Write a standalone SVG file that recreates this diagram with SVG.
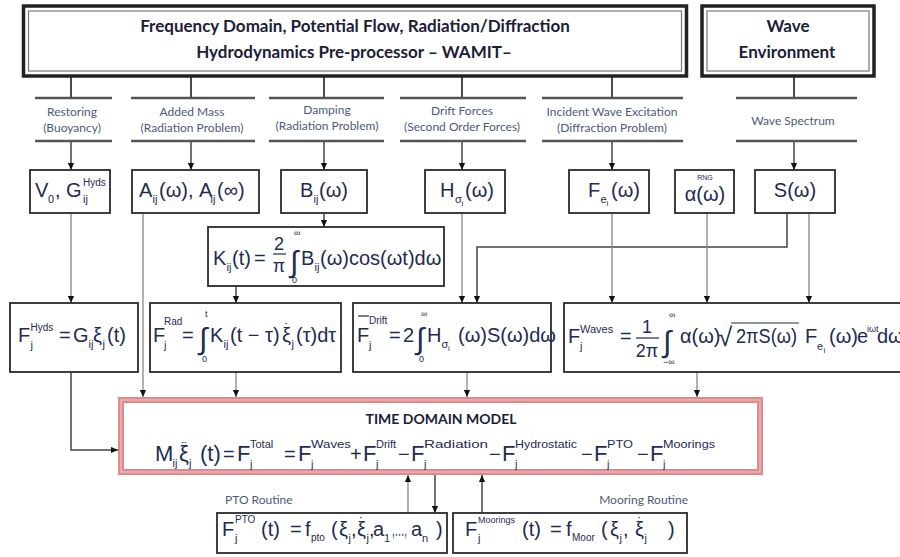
<svg xmlns="http://www.w3.org/2000/svg" width="900" height="557" viewBox="0 0 900 557">
<style>
.hd{font-family:Lato,"Open Sans","Liberation Sans",sans-serif;font-weight:700;font-size:17px;fill:#1b2038}
.lb{font-family:Lato,"Open Sans","Liberation Sans",sans-serif;font-size:12px;fill:#4d5a78}
.m{font-family:"Liberation Sans",Arial,sans-serif;fill:#1e2b52;font-size:20px}
.f18{font-size:18px}.f22{font-size:22px}.int{font-size:30px}
.s{font-size:11px}.s10{font-size:10px}.t{font-size:8px}.l9{font-size:9px}
.dt{font-size:14px;text-anchor:middle}
.bx{fill:#fff;stroke:#2b2b2b;stroke-width:1.8}
.bar{stroke:#555;stroke-width:2.6}
.k{fill:none;stroke:#3a3a3a;stroke-width:1.8}
.c{fill:none;stroke:#444;stroke-width:1.5}
.cl{fill:none;stroke:#888;stroke-width:1.3}
.ln{stroke:#1e2b52;stroke-width:1.2}
.ar{marker-end:url(#ah)}
</style>
<defs>
<marker id="ah" viewBox="0 0 8 8" refX="8" refY="4" markerWidth="7" markerHeight="7" orient="auto" markerUnits="userSpaceOnUse"><path d="M0,0.5 L8,4 L0,7.5 Z" fill="#111"/></marker>
</defs>
<rect width="900" height="557" fill="#fff"/>

<g id="connectors">
<path class="k" d="M71,77V98M191,77V98M324,77V98M462,77V98M612,77V98M794,77V98"/>
<path class="c ar" d="M71,141V170"/>
<path class="c ar" d="M191,141V170"/>
<path class="c ar" d="M324,141V170"/>
<path class="c ar" d="M462,141V170"/>
<path class="c ar" d="M612,141V170"/>
<path class="c ar" d="M794,141V170"/>
<path class="cl ar" d="M71,213V303"/>
<path class="cl ar" d="M143,213V397"/>
<path class="c ar" d="M324,213V227"/>
<path class="c ar" d="M236,286V303"/>
<path class="cl ar" d="M462,213V303"/>
<path class="c ar" d="M787,213V247H477V303"/>
<path class="cl ar" d="M612,213V303"/>
<path class="cl ar" d="M707,213V303"/>
<path class="cl ar" d="M809,213V303"/>
<path class="c ar" d="M71,372V450H118"/>
<path class="cl ar" d="M236,372V397"/>
<path class="cl ar" d="M467,372V397"/>
<path class="cl ar" d="M697,372V397"/>
<path class="cl ar" d="M408,513V475"/>
<path class="c ar" d="M435,475V513"/>
<path class="c ar" d="M482,513V475"/>
</g>

<g id="wamit">
<rect x="23.5" y="6" width="663" height="70" fill="#fff" stroke="#222" stroke-width="3.5"/>
<rect x="28.5" y="11" width="653" height="60" fill="none" stroke="#777" stroke-width="1.2"/>
<text class="hd" x="355" y="32" text-anchor="middle">Frequency Domain, Potential Flow, Radiation/Diffraction</text>
<text class="hd" x="354" y="58" text-anchor="middle">Hydrodynamics Pre-processor – WAMIT–</text>
</g>
<g id="wave-env">
<rect x="702" y="6" width="172" height="70" fill="#fff" stroke="#222" stroke-width="3.5"/>
<rect x="707" y="11" width="162" height="60" fill="none" stroke="#777" stroke-width="1.2"/>
<text class="hd" x="788" y="32" text-anchor="middle">Wave</text>
<text class="hd" x="787" y="58" text-anchor="middle">Environment</text>
</g>

<g id="lbl-restoring">
<line class="bar" x1="35" y1="98" x2="112" y2="98"/><line class="bar" x1="35" y1="141" x2="112" y2="141"/>
<text class="lb" x="72" y="116" text-anchor="middle">Restoring</text>
<text class="lb" x="72" y="132" text-anchor="middle">(Buoyancy)</text>
</g>
<g id="lbl-added-mass">
<line class="bar" x1="131" y1="98" x2="255" y2="98"/><line class="bar" x1="131" y1="141" x2="255" y2="141"/>
<text class="lb" x="192" y="116" text-anchor="middle">Added Mass</text>
<text class="lb" x="192" y="132" text-anchor="middle">(Radiation Problem)</text>
</g>
<g id="lbl-damping">
<line class="bar" x1="269" y1="98" x2="384" y2="98"/><line class="bar" x1="269" y1="141" x2="384" y2="141"/>
<text class="lb" x="327" y="114" text-anchor="middle">Damping</text>
<text class="lb" x="327" y="130" text-anchor="middle">(Radiation Problem)</text>
</g>
<g id="lbl-drift">
<line class="bar" x1="400" y1="98" x2="526" y2="98"/><line class="bar" x1="400" y1="141" x2="526" y2="141"/>
<text class="lb" x="462" y="115" text-anchor="middle">Drift Forces</text>
<text class="lb" x="462" y="131" text-anchor="middle">(Second Order Forces)</text>
</g>
<g id="lbl-incident">
<line class="bar" x1="542" y1="98" x2="683" y2="98"/><line class="bar" x1="542" y1="141" x2="683" y2="141"/>
<text class="lb" x="612" y="116" text-anchor="middle">Incident Wave Excitation</text>
<text class="lb" x="612" y="132" text-anchor="middle">(Diffraction Problem)</text>
</g>
<g id="lbl-spectrum">
<line class="bar" x1="736" y1="98" x2="857" y2="98"/><line class="bar" x1="736" y1="141" x2="857" y2="141"/>
<text class="lb" x="793" y="125" text-anchor="middle">Wave Spectrum</text>
</g>

<g id="box-v0">
<rect class="bx" x="30" y="170" width="80" height="43"/>
<text class="m" x="35" y="197">V</text><text class="m s" x="48" y="203">0</text>
<text class="m" x="55" y="197">, G</text>
<text class="m s10" x="83" y="186">Hyds</text><text class="m s" x="83" y="203">ij</text>
</g>
<g id="box-aij">
<rect class="bx" x="132" y="170" width="127" height="43"/>
<text class="m" x="139" y="197">A</text><text class="m s" x="152.5" y="203">ij</text>
<text class="m" x="159" y="197">(ω), A</text><text class="m s" x="210.5" y="203">ij</text>
<text class="m" x="217" y="197">(∞)</text>
</g>
<g id="box-bij">
<rect class="bx" x="281" y="170" width="86" height="43"/>
<text class="m" x="300" y="197">B</text><text class="m s" x="313.5" y="203">ij</text>
<text class="m" x="319" y="197">(ω)</text>
</g>
<g id="box-h">
<rect class="bx" x="425" y="170" width="80" height="43"/>
<text class="m" x="440" y="197">H</text><text class="m s" x="455" y="203">σ</text><text class="m t" x="461.5" y="206">i</text>
<text class="m" x="465" y="197">(ω)</text>
</g>
<g id="box-fe">
<rect class="bx" x="569" y="170" width="80" height="43"/>
<text class="m" x="588" y="197">F</text><text class="m s" x="600.5" y="203">e</text><text class="m t" x="606.5" y="206">i</text>
<text class="m" x="611" y="197">(ω)</text>
</g>
<g id="box-alpha">
<rect class="bx" x="675" y="170" width="59" height="43"/>
<text class="m" x="705" y="180" text-anchor="middle" style="font-size:7px">RNG</text>
<text class="m" x="705" y="201" text-anchor="middle">α(ω)</text>
</g>
<g id="box-s">
<rect class="bx" x="755" y="170" width="80" height="43"/>
<text class="m" x="795" y="197" text-anchor="middle">S(ω)</text>
</g>

<g id="box-k">
<rect class="bx" x="208" y="227" width="236" height="59"/>
<text class="m" x="213" y="265">K</text><text class="m s" x="226.5" y="271">ij</text>
<text class="m" x="232" y="265">(t)</text>
<text class="m" x="254" y="265">=</text>
<text class="m f18" x="279" y="250" text-anchor="middle">2</text>
<line class="ln" x1="273" y1="254" x2="286" y2="254"/>
<text class="m f18" x="279" y="272" text-anchor="middle">π</text>
<text class="m int" x="290" y="272">∫</text>
<text class="m l9" x="294" y="236">∞</text>
<text class="m l9" x="292" y="283">0</text>
<text class="m" x="301" y="265">B</text><text class="m s" x="314.5" y="271">ij</text>
<text class="m" x="320" y="265">(ω)cos(ωt)dω</text>
</g>

<g id="box-fhyds">
<rect class="bx" x="10" y="303" width="128" height="69"/>
<text class="m" x="18" y="342">F</text>
<text class="m s10" x="30.5" y="331">Hyds</text><text class="m s" x="30.5" y="349">j</text>
<text class="m" x="59" y="342">=</text>
<text class="m" x="73" y="342">G</text><text class="m s" x="88.5" y="348">ij</text>
<text class="m" x="93" y="342">ξ</text><text class="m s" x="102.5" y="348">j</text>
<text class="m" x="107" y="342">(t)</text>
</g>
<g id="box-frad">
<rect class="bx" x="150" y="303" width="191" height="69"/>
<text class="m" x="153" y="342">F</text>
<text class="m s10" x="164" y="325">Rad</text><text class="m s" x="164" y="349">j</text>
<text class="m" x="182" y="342">=</text>
<text class="m int" x="199" y="349">∫</text>
<text class="m l9" x="205" y="317">t</text>
<text class="m l9" x="202" y="362">0</text>
<text class="m" x="210" y="342">K</text><text class="m s" x="223.5" y="348">ij</text>
<text class="m" x="230" y="342">(t − τ)</text>
<text class="m" x="282" y="342">ξ</text><text class="m dt" x="286.5" y="334">˙</text><text class="m s" x="291.5" y="348">j</text>
<text class="m" x="296" y="342">(τ)dτ</text>
</g>
<g id="box-fdrift">
<rect class="bx" x="353" y="303" width="198" height="69"/>
<line class="ln" x1="358" y1="316" x2="369" y2="316"/>
<text class="m" x="357" y="342">F</text>
<text class="m s10" x="369" y="324">Drift</text><text class="m s" x="369" y="349">j</text>
<text class="m" x="389" y="342">=</text>
<text class="m" x="403" y="342">2</text>
<text class="m int" x="416" y="349">∫</text>
<text class="m l9" x="421" y="317">∞</text>
<text class="m l9" x="419" y="362">0</text>
<text class="m" x="427" y="342">H</text><text class="m s" x="441.5" y="348">σ</text><text class="m t" x="448" y="351">i</text>
<text class="m" x="458" y="342">(ω)S(ω)dω</text>
</g>
<g id="box-fwaves">
<rect class="bx" x="564" y="303" width="345" height="69"/>
<text class="m" x="568" y="343">F</text>
<text class="m s" x="580" y="333">Waves</text><text class="m s" x="580" y="350">j</text>
<text class="m" x="620" y="343">=</text>
<text class="m f18" x="647" y="333" text-anchor="middle">1</text>
<line class="ln" x1="636" y1="338" x2="659" y2="338"/>
<text class="m f18" x="647" y="357" text-anchor="middle">2π</text>
<text class="m int" x="663" y="352">∫</text>
<text class="m l9" x="669" y="318">∞</text>
<text class="m l9" x="663" y="365">−∞</text>
<text class="m" x="680" y="343">α(ω)</text>
<text class="m" x="718" y="346" style="font-size:26px">√</text>
<line class="ln" x1="731" y1="323" x2="799" y2="323"/>
<text class="m" x="736" y="343" textLength="61" lengthAdjust="spacingAndGlyphs">2πS(ω)</text>
<text class="m" x="805" y="343">F</text><text class="m s" x="817" y="350">e</text><text class="m t" x="823.5" y="353">i</text>
<text class="m" x="829" y="343">(ω)</text>
<text class="m" x="857" y="343">e</text>
<text class="m l9" x="867" y="332">iωt</text>
<text class="m" x="877" y="343">dω</text>
</g>

<g id="time-domain-model">
<rect x="121" y="400" width="639" height="72" fill="#fff" stroke="#dc8a8e" stroke-width="6"/>
<rect x="121" y="400" width="639" height="72" fill="none" stroke="#eeb6b8" stroke-width="1.5"/>
<text x="441" y="424" text-anchor="middle" style="font-family:Lato,'Open Sans','Liberation Sans',sans-serif;font-weight:700;font-size:14px;fill:#1b2038">TIME DOMAIN MODEL</text>
<text class="m f22" x="155" y="461">M</text><text class="m s" x="172.5" y="467">ij</text>
<text class="m f22" x="179" y="461">ξ</text><text class="m dt" x="184" y="452">¨</text><text class="m s" x="189" y="467">j</text>
<text class="m f22" x="200" y="461">(t)</text>
<text class="m" x="223" y="461">=</text>
<text class="m f22" x="237" y="461">F</text><text class="m s" x="250" y="448">Total</text><text class="m s" x="250" y="468">j</text>
<text class="m" x="284" y="461">=</text>
<text class="m f22" x="298" y="461">F</text><text class="m s" x="311" y="448" textLength="40" lengthAdjust="spacingAndGlyphs">Waves</text><text class="m s" x="311" y="468">j</text>
<text class="m" x="350" y="461">+</text>
<text class="m f22" x="363" y="461">F</text><text class="m s" x="376" y="448">Drift</text><text class="m s" x="376" y="468">j</text>
<text class="m" x="398" y="461">−</text>
<text class="m f22" x="411" y="461">F</text><text class="m s" x="424" y="448" textLength="64" lengthAdjust="spacingAndGlyphs">Radiation</text><text class="m s" x="424" y="468">j</text>
<text class="m" x="489" y="461">−</text>
<text class="m f22" x="502" y="461">F</text><text class="m s" x="515" y="448" textLength="62" lengthAdjust="spacingAndGlyphs">Hydrostatic</text><text class="m s" x="515" y="468">j</text>
<text class="m" x="581" y="461">−</text>
<text class="m f22" x="594" y="461">F</text><text class="m s" x="607" y="448" textLength="26" lengthAdjust="spacingAndGlyphs">PTO</text><text class="m s" x="607" y="468">j</text>
<text class="m" x="637" y="461">−</text>
<text class="m f22" x="650" y="461">F</text><text class="m s" x="663" y="448" textLength="52" lengthAdjust="spacingAndGlyphs">Moorings</text><text class="m s" x="663" y="468">j</text>
</g>

<g id="pto-routine">
<text class="lb" x="225" y="504">PTO Routine</text>
<rect class="bx" x="217" y="513" width="230" height="40"/>
<text class="m" x="222" y="536">F</text><text class="m s10" x="235" y="523">PTO</text><text class="m s" x="235" y="542">j</text>
<text class="m" x="261" y="536">(t)</text>
<text class="m" x="290" y="536">=</text>
<text class="m" x="305" y="536">f</text><text class="m s10" x="311" y="541">pto</text>
<text class="m" x="331" y="536">(</text>
<text class="m" x="339" y="536">ξ</text><text class="m s" x="348.5" y="542">j</text>
<text class="m" x="351" y="536">,</text>
<text class="m" x="357" y="536">ξ</text><text class="m dt" x="361.5" y="528">˙</text><text class="m s" x="366.5" y="542">j</text>
<text class="m" x="369" y="536">,</text>
<text class="m" x="373" y="536">a</text><text class="m s" x="384" y="542">1</text>
<text class="m" x="392" y="536" textLength="15" lengthAdjust="spacingAndGlyphs">,…,</text>
<text class="m" x="411" y="536">a</text><text class="m s" x="422" y="542">n</text>
<text class="m" x="436" y="536">)</text>
</g>
<g id="mooring-routine">
<text class="lb" x="688" y="504" text-anchor="end">Mooring Routine</text>
<rect class="bx" x="453" y="513" width="234" height="40"/>
<text class="m" x="465" y="536">F</text><text class="m l9" x="478" y="523">Moorings</text><text class="m s" x="478" y="542">j</text>
<text class="m" x="522" y="536">(t)</text>
<text class="m" x="550" y="536">=</text>
<text class="m" x="566" y="536">f</text><text class="m s10" x="572" y="541">Moor</text>
<text class="m" x="601" y="536">(</text>
<text class="m" x="610" y="536">ξ</text><text class="m s" x="619.5" y="542">j</text>
<text class="m" x="623" y="536">,</text>
<text class="m" x="635" y="536">ξ</text><text class="m dt" x="639.5" y="528">˙</text><text class="m s" x="644.5" y="542">j</text>
<text class="m" x="668" y="536">)</text>
</g>
</svg>
